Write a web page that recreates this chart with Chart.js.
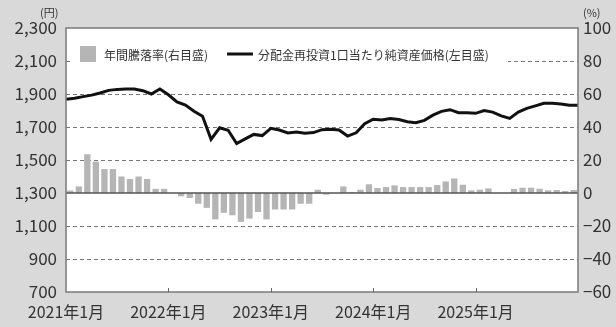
<!DOCTYPE html>
<html>
<head>
<meta charset="utf-8">
<script src="https://cdn.jsdelivr.net/npm/chart.js@4/dist/chart.umd.min.js"></script>
<style>
  html, body { margin: 0; padding: 0; background: #d9d9d9; }
  #wrap { width: 616px; height: 327px; }
</style>
</head>
<body>
<div id="wrap"><canvas id="c" width="616" height="327"></canvas></div>
<script>
// 分配金再投資1口当たり純資産価格（円）: 2021年1月〜2026年1月の月次
const navPrice = [
  1868, 1874, 1884, 1893, 1906, 1922, 1928, 1930, 1930, 1920,
  1900, 1930, 1895, 1852, 1833, 1795, 1765, 1625, 1695, 1680,
  1600, 1628, 1655, 1648, 1692, 1682, 1664, 1670, 1662, 1666,
  1684, 1686, 1682, 1645, 1665, 1720, 1747, 1742, 1752, 1745,
  1732, 1726, 1740, 1772, 1795, 1805, 1787, 1787, 1783, 1800,
  1790, 1767, 1752, 1790, 1813, 1828, 1844, 1844, 1840, 1832,
  1832
];

// 年間騰落率（%）: 2021年1月〜2025年12月の月次
const annualReturn = [
  1.5, 4.0, 23.5, 19.0, 14.5, 14.5, 10.0, 8.5, 10.0, 8.5,
  2.5, 2.5, 0.0, -2.0, -3.0, -6.5, -9.0, -16.0, -12.0, -13.5,
  -17.5, -15.5, -11.5, -16.0, -10.0, -10.0, -10.0, -6.5, -6.5, 2.0,
  -1.0, 0.0, 4.0, 0.5, 2.0, 5.3, 3.0, 3.6, 4.6, 3.6,
  3.6, 3.6, 3.6, 4.8, 7.0, 8.8, 5.0, 1.6, 2.0, 2.8,
  0.0, 0.0, 2.5, 3.2, 3.2, 2.6, 1.6, 1.8, 1.2, 1.8
];

const xTickLabels = ['2021年1月', '2022年1月', '2023年1月', '2024年1月', '2025年1月'];
const leftTicks = { min: 700, max: 2300, step: 200 };
const rightTicks = { min: -60, max: 100, step: 20 };

const FONT = '"Noto Sans CJK JP", "Noto Sans", sans-serif';
const TEXT = '#333333';
const BAR = '#b5b5b5';

// 背景・グリッド・枠・凡例・単位表示
const decor = {
  id: 'decor',
  beforeDraw(chart) {
    const { ctx, chartArea: a } = chart;
    ctx.save();
    ctx.fillStyle = '#d9d9d9';
    ctx.fillRect(0, 0, chart.width, chart.height);
    ctx.fillStyle = '#ffffff';
    ctx.fillRect(a.left, a.top, a.right - a.left, a.bottom - a.top);
    ctx.restore();
  },
  beforeDatasetsDraw(chart) {
    const { ctx, chartArea: a, scales } = chart;
    ctx.save();
    ctx.strokeStyle = '#777';
    ctx.lineWidth = 1;
    ctx.setLineDash([4, 3]);
    scales.y.ticks.forEach(t => {
      if (t.value === leftTicks.min || t.value === leftTicks.max || t.value === 1300) return;
      const y = Math.round(scales.y.getPixelForValue(t.value)) + 0.5;
      ctx.beginPath();
      ctx.moveTo(a.left, y);
      ctx.lineTo(a.right, y);
      ctx.stroke();
    });
    ctx.restore();
  },
  afterDatasetsDraw(chart) {
    const { ctx, chartArea: a, scales } = chart;
    ctx.save();
    // 0%ライン
    const y0 = scales.y1.getPixelForValue(0);
    ctx.strokeStyle = '#555';
    ctx.lineWidth = 1.5;
    ctx.beginPath();
    ctx.moveTo(a.left, y0);
    ctx.lineTo(a.right, y0);
    ctx.stroke();

    // 凡例
    const ds = chart.data.datasets;
    const ly = 54;
    ctx.fillStyle = '#ffffff';
    ctx.fillRect(a.left + 6, 42, 436, 24);
    ctx.fillStyle = BAR;
    ctx.fillRect(80, ly - 8, 16, 16);
    ctx.font = '12px ' + FONT;
    ctx.fillStyle = TEXT;
    ctx.textBaseline = 'middle';
    ctx.textAlign = 'left';
    ctx.fillText(ds[1].label, 104, ly + 1);
    ctx.strokeStyle = '#111';
    ctx.lineWidth = 3;
    ctx.beginPath();
    ctx.moveTo(227, ly);
    ctx.lineTo(253, ly);
    ctx.stroke();
    ctx.fillText(ds[0].label, 258, ly + 1);

    // 枠
    ctx.strokeStyle = '#7a7a7a';
    ctx.lineWidth = 1.5;
    ctx.strokeRect(a.left, a.top, a.right - a.left, a.bottom - a.top);

    // 横軸の目盛り（内向き）
    ctx.lineWidth = 1;
    ctx.strokeStyle = '#666';
    for (let v = 12; v < 60; v += 12) {
      const x = Math.round(scales.x.getPixelForValue(v)) + 0.5;
      ctx.beginPath();
      ctx.moveTo(x, a.bottom);
      ctx.lineTo(x, a.bottom - 4);
      ctx.stroke();
    }

    // 単位
    ctx.font = '11px ' + FONT;
    ctx.fillStyle = TEXT;
    ctx.textAlign = 'left';
    ctx.fillText('(円)', 40, 13);
    ctx.fillText('(%)', 583, 13);
    ctx.restore();
  }
};

new Chart(document.getElementById('c'), {
  type: 'line',
  data: {
    datasets: [
      {
        type: 'line',
        label: '分配金再投資1口当たり純資産価格(左目盛)',
        data: navPrice.map((v, i) => ({ x: i, y: v })),
        yAxisID: 'y',
        borderColor: '#111',
        borderWidth: 3,
        pointRadius: 0,
        tension: 0,
        order: 0
      },
      {
        type: 'bar',
        label: '年間騰落率(右目盛)',
        data: annualReturn.map((v, i) => ({ x: i + 0.5, y: v })),
        yAxisID: 'y1',
        backgroundColor: BAR,
        borderWidth: 0,
        barPercentage: 0.74,
        categoryPercentage: 1.0,
        order: 1
      }
    ]
  },
  plugins: [decor],
  options: {
    responsive: false,
    animation: false,
    devicePixelRatio: 1,
    layout: { padding: { top: 28, left: 0, right: 0, bottom: 0 } },
    plugins: { legend: { display: false }, tooltip: { enabled: false } },
    scales: {
      x: {
        type: 'linear',
        min: 0,
        max: 60,
        offset: false,
        grid: { display: false, drawTicks: false },
        border: { display: false },
        ticks: {
          stepSize: 12,
          autoSkip: false,
          maxRotation: 0,
          padding: 10,
          color: TEXT,
          font: { family: FONT, size: 16 },
          callback: v => xTickLabels[v / 12] || ''
        },
        afterFit: s => { s.height = 35; }
      },
      y: {
        position: 'left',
        min: leftTicks.min,
        max: leftTicks.max,
        grid: { display: false, drawTicks: false },
        border: { display: false },
        ticks: {
          stepSize: leftTicks.step,
          padding: 9,
          color: TEXT,
          font: { family: FONT, size: 17 },
          callback: v => v.toLocaleString('en-US')
        },
        afterFit: s => { s.width = 66; }
      },
      y1: {
        position: 'right',
        min: rightTicks.min,
        max: rightTicks.max,
        grid: { display: false, drawTicks: false },
        border: { display: false },
        ticks: {
          stepSize: rightTicks.step,
          padding: 5,
          color: TEXT,
          font: { family: FONT, size: 17 },
          callback: v => (v < 0 ? '−' + Math.abs(v) : String(v))
        },
        afterFit: s => { s.width = 38; }
      }
    }
  }
});
</script>
</body>
</html>
